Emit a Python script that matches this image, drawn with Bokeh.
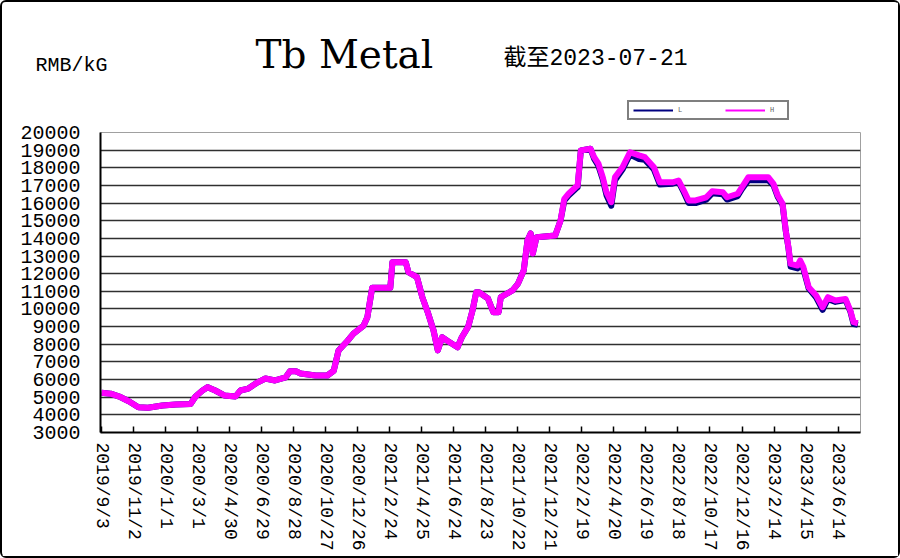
import pandas as pd
from bokeh.plotting import figure
from bokeh.layouts import column
from bokeh.models import FixedTicker, Label, Legend, LegendItem, Range1d, ColumnDataSource
from bokeh.embed import file_html
from bokeh.resources import INLINE

# ---------------- data ----------------
dates = [
    "2019-09-03", "2019-09-20", "2019-10-09", "2019-10-24", "2019-11-11", "2019-11-29",
    "2019-12-26", "2020-01-20", "2020-02-17", "2020-02-26", "2020-03-10", "2020-03-20",
    "2020-04-03", "2020-04-20", "2020-05-11", "2020-05-20", "2020-06-04", "2020-06-18",
    "2020-07-06", "2020-07-24", "2020-08-13", "2020-08-21", "2020-09-01", "2020-09-10",
    "2020-10-08", "2020-10-30", "2020-11-11", "2020-11-20", "2020-12-07", "2020-12-18",
    "2021-01-06", "2021-01-13", "2021-01-22", "2021-02-25", "2021-03-01", "2021-03-26",
    "2021-03-31", "2021-04-16", "2021-04-26", "2021-05-07", "2021-05-17", "2021-05-25",
    "2021-06-02", "2021-06-11", "2021-07-01", "2021-07-09", "2021-07-21", "2021-07-29",
    "2021-08-05", "2021-08-10", "2021-08-27", "2021-09-06", "2021-09-16", "2021-09-20",
    "2021-10-12", "2021-10-22", "2021-11-02", "2021-11-09", "2021-11-15", "2021-11-19",
    "2021-11-26", "2021-12-31", "2022-01-10", "2022-01-17", "2022-01-25", "2022-02-07",
    "2022-02-11", "2022-02-17", "2022-03-07", "2022-03-14", "2022-03-22", "2022-03-30",
    "2022-04-06", "2022-04-15", "2022-04-22", "2022-05-06", "2022-05-20", "2022-06-06",
    "2022-06-17", "2022-07-04", "2022-07-15", "2022-08-08", "2022-08-19", "2022-08-29",
    "2022-09-07", "2022-09-20", "2022-10-10", "2022-10-21", "2022-11-10", "2022-11-18",
    "2022-12-08", "2022-12-16", "2022-12-28", "2023-02-03", "2023-02-13", "2023-02-21",
    "2023-03-02", "2023-03-08", "2023-03-13", "2023-03-17", "2023-03-30", "2023-04-04",
    "2023-04-10", "2023-04-20", "2023-05-04", "2023-05-16", "2023-05-26", "2023-06-09",
    "2023-06-28", "2023-07-07", "2023-07-13", "2023-07-21",
]

high = [
    5250, 5200, 5000, 4770, 4430, 4400,
    4530, 4590, 4620, 5040, 5380, 5570,
    5380, 5100, 5040, 5380, 5490, 5780,
    6060, 5950, 6130, 6470, 6470, 6340,
    6230, 6230, 6500, 7650, 8200, 8600,
    9060, 9530, 11200, 11200, 12650, 12650,
    12080, 11800, 10670, 9740, 8780, 7650,
    8400, 8210, 7830, 8400, 9000, 9910,
    10950, 10950, 10590, 9820, 9820, 10670,
    11050, 11420, 12180, 13880, 14280, 13140,
    14070, 14160, 15010, 16240, 16530, 16900,
    17000, 18980, 19080, 18600, 18230, 17470,
    16620, 16050, 17470, 18030, 18880, 18700,
    18600, 18030, 17180, 17180, 17280, 16710,
    16150, 16150, 16330, 16670, 16620, 16330,
    16530, 16900, 17470, 17470, 17090, 16430,
    15960, 14450, 13500, 12560, 12460, 12750,
    12370, 11230, 10760, 10100, 10670, 10480,
    10570, 9910, 9250, 9190,
]

low = [
    5250, 5200, 5000, 4770, 4430, 4400,
    4530, 4590, 4620, 5040, 5380, 5570,
    5380, 5100, 5040, 5380, 5490, 5780,
    6060, 5950, 6130, 6470, 6470, 6340,
    6230, 6230, 6500, 7650, 8200, 8600,
    9060, 9530, 11200, 11200, 12650, 12650,
    12080, 11800, 10670, 9740, 8780, 7650,
    8400, 8210, 7830, 8400, 9000, 9910,
    10950, 10950, 10590, 9820, 9820, 10670,
    11050, 11420, 12180, 13880, 14280, 13140,
    14070, 14160, 15010, 16140, 16430, 16800,
    16900, 18980, 19080, 18500, 18100, 17350,
    16450, 15850, 17300, 17900, 18750, 18500,
    18450, 17900, 17050, 17100, 17200, 16600,
    16000, 16000, 16200, 16550, 16500, 16200,
    16400, 16800, 17300, 17300, 17000, 16350,
    15900, 14400, 13450, 12400, 12300, 12650,
    12250, 11150, 10650, 9950, 10550, 10400,
    10500, 9850, 9150, 9100,
]

tick_labels = [
    "2019/9/3", "2019/11/2", "2020/1/1", "2020/3/1", "2020/4/30", "2020/6/29",
    "2020/8/28", "2020/10/27", "2020/12/26", "2021/2/24", "2021/4/25", "2021/6/24",
    "2021/8/23", "2021/10/22", "2021/12/21", "2022/2/19", "2022/4/20", "2022/6/19",
    "2022/8/18", "2022/10/17", "2022/12/16", "2023/2/14", "2023/4/15", "2023/6/14",
]

y_ticks = [3000, 4000, 5000, 6000, 7000, 8000, 9000, 10000, 11000, 12000, 13000,
           14000, 15000, 16000, 17000, 18000, 19000, 20000]

series_names = ["L", "H"]
series_colors = ["#000080", "#FF00FF"]

title_text = "Tb Metal"
subtitle_text = "截至2023-07-21"
unit_text = "RMB/kG"

# ---------------- build ----------------
assert len(dates) == len(high) == len(low)
src = ColumnDataSource(dict(x=pd.to_datetime(dates), high=high, low=low))

tick_ts = pd.to_datetime(tick_labels, format="%Y/%m/%d")
tick_ms = [float(t.value // 10**6) for t in tick_ts]

MONO = "Liberation Mono"
W = 896          # + 2px border each side = 900
TOP_H = 118
MAIN_H = 436     # TOP_H + MAIN_H + 4 = 558

# ----- header strip (titles + legend) -----
head = figure(width=W, height=TOP_H, output_backend="svg", toolbar_location=None,
              x_axis_location=None,
              x_range=Range1d(0, 1), y_range=Range1d(0, 1),
              min_border=0, min_border_left=0, min_border_right=0,
              min_border_top=8, min_border_bottom=0)
head.outline_line_color = None
head.grid.grid_line_color = None
head.background_fill_color = "white"
head.border_fill_color = "white"

# unit text as the header's (horizontal) axis label
head.yaxis.ticker = FixedTicker(ticks=[])
head.yaxis.axis_line_color = None
head.yaxis.major_tick_out = 0
head.yaxis.major_tick_in = 0
head.yaxis.minor_tick_line_color = None
head.yaxis.major_label_standoff = 0
head.yaxis.axis_label = unit_text
head.yaxis.axis_label_orientation = "horizontal"
head.yaxis.axis_label_text_font = MONO
head.yaxis.axis_label_text_font_size = "20px"
head.yaxis.axis_label_text_font_style = "normal"
head.yaxis.axis_label_text_color = "black"
head.yaxis.axis_label_standoff = -7

head.add_layout(Label(x=155, y=66, x_units="screen", y_units="screen", text=title_text,
                      text_font="DejaVu Serif", text_font_size="39px", text_color="black",
                      text_baseline="alphabetic"))
head.add_layout(Label(x=403, y=62, x_units="screen", y_units="screen", text=subtitle_text,
                      text_font="Liberation Mono, Noto Sans CJK SC", text_font_size="23px",
                      text_color="black", text_baseline="alphabetic"))

# legend samples: the series themselves, far outside this strip's ranges (so only the legend shows)
leg_l = head.line("x", "low", source=src, color=series_colors[0], line_width=2)
leg_h = head.line("x", "high", source=src, color=series_colors[1], line_width=2)
legend = Legend(
    items=[LegendItem(label=series_names[0], renderers=[leg_l]),
           LegendItem(label=series_names[1], renderers=[leg_h])],
    orientation="horizontal", location=(527, 0),
    padding=4, spacing=34, glyph_width=40, glyph_height=4,
    label_standoff=5, label_width=13, label_height=6,
    label_text_font_size="7px", label_text_color="#606060", label_text_font=MONO,
    border_line_color="black", border_line_width=2,
    background_fill_color="white", background_fill_alpha=1.0,
    margin=0,
)
head.add_layout(legend, "center")

# ----- main chart -----
p = figure(
    width=W, height=MAIN_H,
    x_axis_type="datetime",
    x_range=Range1d(pd.Timestamp("2019-09-01"), pd.Timestamp("2023-07-26")),
    y_range=Range1d(3000, 20000),
    output_backend="svg", toolbar_location=None,
    min_border_left=98, min_border_right=38, min_border_top=12, min_border_bottom=124,
)
p.background_fill_color = "white"
p.border_fill_color = "white"
p.outline_line_color = "#a0a0a0"
p.outline_line_width = 1

p.xgrid.grid_line_color = None
p.ygrid.grid_line_color = "#303030"
p.ygrid.grid_line_width = 1.5
p.ygrid.ticker = FixedTicker(ticks=y_ticks)

p.yaxis.ticker = FixedTicker(ticks=y_ticks)
p.yaxis.axis_line_color = "black"
p.yaxis.axis_line_width = 2
p.yaxis.major_tick_out = 0
p.yaxis.major_tick_in = 0
p.yaxis.minor_tick_line_color = None
p.yaxis.major_label_text_font = MONO
p.yaxis.major_label_text_font_size = "20px"
p.yaxis.major_label_text_color = "black"
p.yaxis.major_label_standoff = 20

p.xaxis.ticker = FixedTicker(ticks=tick_ms)
p.xaxis.major_label_overrides = {ms: lab for ms, lab in zip(tick_ms, tick_labels)}
p.xaxis.axis_line_color = "black"
p.xaxis.axis_line_width = 2
p.xaxis.major_tick_in = 6
p.xaxis.major_tick_out = 0
p.xaxis.major_tick_line_color = "black"
p.xaxis.major_tick_line_width = 1.5
p.xaxis.minor_tick_line_color = None
p.xaxis.major_label_orientation = "vertical"
p.xaxis.major_label_text_font = MONO
p.xaxis.major_label_text_font_size = "18px"
p.xaxis.major_label_text_color = "black"
p.xaxis.major_label_standoff = 10

p.line("x", "low", source=src, color=series_colors[0], line_width=6, line_join="round")
p.line("x", "high", source=src, color=series_colors[1], line_width=6, line_join="round")

layout = column(head, p, spacing=0)
layout.styles = {"border": "2px solid black", "border-radius": "6px"}
open("out.html", "w").write(file_html(layout, INLINE))
